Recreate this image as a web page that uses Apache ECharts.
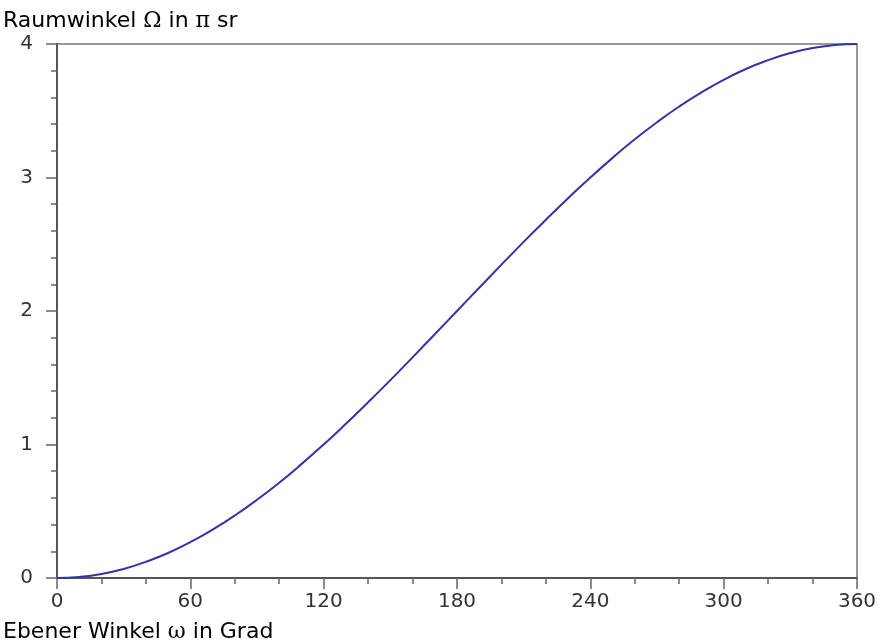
<!DOCTYPE html>
<html>
<head>
<meta charset="utf-8">
<script src="https://cdn.jsdelivr.net/npm/echarts@6/dist/echarts.min.js"></script>
<style>html,body{margin:0;padding:0;background:#fff}#c{width:892px;height:641px}</style>
</head>
<body>
<div id="c"></div>
<script>
// Planar angle ω in degrees
const angles = [0,10,20,30,40,50,60,70,80,90,100,110,120,130,140,150,160,170,180,190,200,210,220,230,240,250,260,270,280,290,300,310,320,330,340,350,360];
// Solid angle Ω in units of π sr
const solidAngle = [0,0.008,0.03,0.068,0.121,0.187,0.268,0.362,0.468,0.586,0.714,0.853,1.0,1.155,1.316,1.482,1.653,1.826,2.0,2.174,2.347,2.518,2.684,2.845,3.0,3.147,3.286,3.414,3.532,3.638,3.732,3.813,3.879,3.932,3.970,3.992,4.0];
const xTicks = [0,60,120,180,240,300,360];
const yTicks = [0,1,2,3,4];
const yTitle = 'Raumwinkel Ω in π sr';
const xTitle = 'Ebener Winkel ω in Grad';

const font = 'DejaVu Sans';
function richTitle(s){
  return s.replace(/([Ωπω])/g, '{g|$1}');
}
const titleStyle = {fontFamily:font,fontSize:22,fontWeight:'normal',color:'#000',
  rich:{g:{fontFamily:'DejaVu Serif',fontSize:22,color:'#000'}}};
const chart = echarts.init(document.getElementById('c'));
chart.setOption({
  animation:false,
  backgroundColor:'#fff',
  title:[
    {text: richTitle(yTitle), left:3, top:10, padding:0, textStyle:titleStyle},
    {text: richTitle(xTitle), left:3, top:621, padding:0, textStyle:titleStyle}
  ],
  grid:{left:57,right:35,top:44,bottom:63,show:true,borderColor:'#999',borderWidth:2,backgroundColor:'transparent'},
  xAxis:{
    type:'value',min:0,max:360,interval:60,
    axisLine:{show:true,lineStyle:{color:'#555',width:2}},
    axisTick:{show:true,inside:false,length:11,lineStyle:{color:'#666',width:1.5},customValues:xTicks},
    minorTick:{show:true,splitNumber:3,length:6,lineStyle:{color:'#666',width:1.5}},
    axisLabel:{fontFamily:font,fontSize:20,color:'#333',margin:14,customValues:xTicks},
    splitLine:{show:false}
  },
  yAxis:{
    type:'value',min:0,max:4,interval:1,
    axisLine:{show:true,lineStyle:{color:'#555',width:2}},
    axisTick:{show:true,inside:false,length:11,lineStyle:{color:'#666',width:1.5},customValues:yTicks},
    minorTick:{show:true,splitNumber:5,length:6,lineStyle:{color:'#666',width:1.5}},
    axisLabel:{fontFamily:font,fontSize:20,color:'#333',margin:24,customValues:yTicks},
    splitLine:{show:false}
  },
  series:[{
    type:'line',
    data: angles.map((a,i)=>[a,solidAngle[i]]),
    smooth:true,
    showSymbol:false,
    lineStyle:{color:'#3434a8',width:2},
    z:1
  }]
});
</script>
</body>
</html>
